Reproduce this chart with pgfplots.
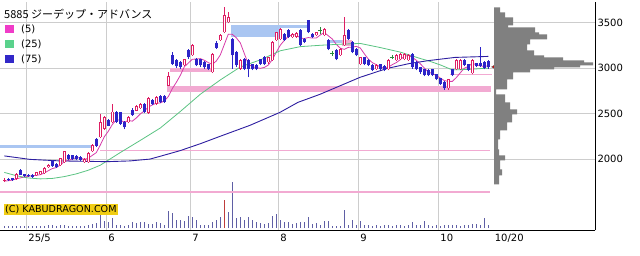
\documentclass[border=0pt]{standalone}
\usepackage{fontspec}
\setmainfont{DejaVu Sans}
\newfontfamily\cjk{Noto Sans CJK JP}
\usepackage{pgfplots}
\pgfplotsset{compat=1.18}
\usepackage{pgfplotstable}

\definecolor{cup}{RGB}{222,30,100}
\definecolor{cdn}{RGB}{44,36,200}
\definecolor{cdoji}{RGB}{40,140,60}
\definecolor{cmfive}{RGB}{215,60,170}
\definecolor{cmtwf}{RGB}{90,195,130}
\definecolor{cmsvf}{RGB}{45,30,160}
\definecolor{clfive}{RGB}{240,60,200}
\definecolor{cltwf}{RGB}{90,210,140}
\definecolor{clsvf}{RGB}{50,40,200}
\definecolor{cpink}{RGB}{242,170,210}
\definecolor{cblue}{RGB}{170,198,242}
\definecolor{cgrid}{RGB}{205,205,205}
\definecolor{cprof}{RGB}{128,128,128}
\definecolor{cyel}{RGB}{240,205,20}
\definecolor{cvol}{RGB}{95,95,165}
\definecolor{cvolr}{RGB}{190,60,60}

% up candles (red, hollow)
\pgfplotstableread{
i O H L C
0 1765 1790 1750 1770
3 1783 1845 1775 1838
8 1823 1862 1815 1856
9 1834 1872 1828 1867
10 1845 1910 1840 1903
11 1912 1950 1905 1940
14 1933 2015 1925 2010
15 1966 2095 1960 2087
20 1966 2010 1960 2002
21 1966 2080 1960 2070
22 2087 2165 2080 2152
24 2240 2496 2230 2404
25 2330 2470 2320 2459
27 2404 2605 2395 2522
31 2404 2470 2395 2459
33 2533 2600 2525 2587
34 2558 2615 2550 2605
36 2506 2680 2500 2667
38 2605 2690 2595 2678
41 2807 2953 2800 2909
45 3029 3105 3020 3095
47 3139 3260 3130 3249
52 2953 3160 2945 3150
54 3304 3370 3295 3358
55 3391 3665 3380 3578
56 3501 3610 3490 3556
59 2990 3095 2980 3084
66 3062 3125 3050 3117
67 3084 3295 3075 3282
68 3304 3400 3295 3391
69 3315 3435 3305 3424
72 3336 3380 3325 3369
73 3340 3400 3330 3385
78 3358 3400 3350 3391
80 3358 3435 3350 3424
84 3139 3215 3130 3205
85 3249 3556 3240 3358
89 3040 3125 3030 3117
93 2985 3040 2975 3029
96 2985 3095 2975 3084
98 3084 3150 3075 3139
99 3095 3160 3085 3150
100 3095 3160 3085 3150
101 3084 3150 3075 3139
111 2777 2885 2765 2876
113 2985 3095 2975 3084
114 2985 3095 2975 3084
117 2942 3095 2930 3084
}\upT

% down candles (blue, filled)
\pgfplotstableread{
i O H L C
1 1780 1790 1760 1768
2 1790 1800 1765 1775
4 1878 1890 1825 1830
5 1834 1840 1805 1812
6 1830 1840 1805 1812
7 1830 1838 1800 1808
12 1977 1990 1918 1925
13 1950 1960 1905 1911
16 2043 2060 1995 2002
17 2043 2050 1990 1999
18 2032 2045 1990 1999
19 2028 2040 1985 1990
23 2222 2230 2140 2150
26 2430 2445 2360 2368
28 2522 2530 2400 2412
29 2514 2520 2375 2386
30 2404 2415 2327 2349
32 2544 2560 2475 2485
35 2605 2615 2505 2514
37 2653 2665 2595 2605
39 2697 2710 2615 2624
40 2690 2700 2615 2624
42 3139 3172 3030 3040
43 3084 3095 3005 3018
44 3062 3075 2995 3007
46 3194 3210 3105 3117
48 3095 3110 3020 3029
49 3095 3105 3015 3029
50 3062 3075 2995 3007
51 3040 3050 2975 2985
53 3275 3300 3210 3220
57 3318 3330 2990 3139
58 3172 3185 3015 3029
60 3098 3110 2975 2990
61 3084 3095 2898 2985
62 3040 3050 2975 2985
63 3029 3040 2975 2985
64 3095 3105 3030 3040
65 3117 3130 3030 3040
70 3369 3380 3295 3304
71 3413 3425 3325 3336
74 3413 3425 3240 3249
75 3315 3325 3270 3282
76 3523 3530 3380 3391
77 3369 3380 3325 3336
81 3304 3315 3195 3205
83 3194 3205 3085 3095
86 3413 3425 3305 3315
87 3282 3295 3160 3172
88 3205 3215 3128 3139
90 3117 3125 3030 3040
91 3084 3095 3020 3029
92 3029 3040 2965 2974
94 3040 3050 2975 2985
95 3018 3030 2965 2974
102 3150 3160 2995 3007
103 3062 3075 2975 2985
104 3007 3015 2940 2953
105 2985 2995 2910 2920
106 2974 2985 2910 2920
107 2985 2995 2910 2920
108 2931 2940 2865 2876
109 2887 2895 2810 2821
110 2843 2855 2765 2777
112 2985 2995 2910 2920
115 3084 3095 3020 3029
116 3040 3050 2965 2974
118 3051 3060 3010 3018
119 3051 3227 3010 3018
120 3062 3075 2985 2996
121 3073 3085 2995 3007
}\dnT

% doji candles (green)
\pgfplotstableread{
i O H L C
79 3413 3446 3369 3413
82 3161 3190 3135 3161
97 3117 3140 3095 3117
}\djT

% volume (bar height in tenths of a pixel)
\pgfplotstableread{
i V
0 25
1 20
2 22
3 25
4 20
5 18
6 20
7 22
8 25
9 20
10 25
11 30
12 28
13 25
14 33
15 30
16 25
17 22
18 20
19 20
20 25
21 30
22 40
23 50
24 150
25 67
26 60
27 100
28 33
29 27
30 23
31 33
32 57
33 50
34 57
35 57
36 40
37 40
38 57
39 50
40 33
41 173
42 147
43 77
44 77
45 67
46 117
47 110
48 77
49 33
50 27
51 33
52 57
53 77
54 107
56 157
57 460
58 100
59 110
60 77
61 110
62 77
63 57
64 50
65 43
66 50
67 117
68 137
69 83
70 60
71 60
72 40
73 50
74 63
75 57
76 107
77 40
78 50
79 33
80 67
81 67
82 23
83 23
84 23
85 183
86 33
87 77
88 33
89 67
90 33
91 33
92 25
93 30
94 25
95 28
96 30
97 25
98 28
99 30
100 25
101 28
102 57
103 30
104 30
105 67
106 30
107 23
108 33
109 23
110 33
111 33
112 33
113 27
114 23
115 33
116 33
117 40
118 40
119 33
120 97
121 33
}\volT

% 5-day moving average
\pgfplotstableread{
i M
0 1760
1 1765
2 1772
3 1785
4 1796
5 1805
6 1813
7 1820
8 1824
9 1831
10 1849
11 1875
12 1898
13 1909
14 1938
15 1975
16 1987
17 2002
18 2019
19 2015
20 1998
21 2012
22 2043
23 2073
24 2156
25 2247
26 2307
27 2381
28 2433
29 2429
30 2407
31 2426
32 2418
33 2453
34 2497
35 2530
36 2572
37 2596
38 2614
39 2618
40 2640
41 2688
42 2775
43 2843
44 2920
45 3014
46 3055
47 3097
48 3099
49 3104
50 3086
51 3060
52 3040
53 3078
54 3144
55 3258
56 3372
57 3370
58 3332
59 3277
60 3160
61 3045
62 3015
63 3006
64 2997
65 3007
66 3033
67 3093
68 3174
69 3251
70 3304
71 3347
72 3365
73 3364
74 3329
75 3324
76 3335
77 3329
78 3330
79 3363
80 3391
81 3354
82 3319
83 3260
84 3218
85 3205
86 3227
87 3229
88 3238
89 3220
90 3157
91 3099
92 3060
93 3038
94 3011
95 2998
96 3009
97 3038
98 3060
99 3093
100 3128
101 3139
102 3117
103 3086
104 3047
105 3001
106 2957
107 2940
108 2918
109 2891
110 2863
111 2854
112 2854
113 2896
114 2948
115 2999
116 3018
117 3051
118 3038
119 3025
120 3018
121 3025
}\mfiveT

% 25-day moving average
\pgfplotstableread{
i M
0 1856
3 1820
6 1795
9 1785
12 1790
15 1810
18 1840
21 1880
24 1935
29 2074
34 2207
39 2343
44 2524
49 2713
54 2870
59 3012
64 3090
69 3190
74 3235
79 3250
84 3262
89 3270
94 3225
99 3175
104 3105
106 3080
109 3035
112 2980
116 2985
121 3000
}\mtwfT

% 75-day moving average
\pgfplotstableread{
i M
0 2037
6.4 1999
14 1982
25.7 1974
31.4 1982
36.4 2002
38.9 2032
43.9 2094
48.9 2169
53.9 2251
61.4 2372
68.9 2514
73.4 2624
78.9 2712
83.9 2805
88.9 2898
95.7 2996
101.4 3051
106.4 3084
112.7 3117
121 3128
}\msvfT

\begin{document}
\begin{tikzpicture}[x=1pt,y=1pt]
\useasboundingbox (0,0) rectangle (640,255);

% volume
\begin{axis}[at={(0,27)}, anchor=south west, scale only axis,
  width=595pt, height=228pt, xmin=-1.075, xmax=147.675,
  ymin=0, ymax=2280, hide axis]
\addplot[ycomb, line width=0.9pt, cvol, mark=none] table[x=i,y=V] \volT;
\addplot[ycomb, line width=0.9pt, cvolr, mark=none] coordinates {(55,283)};
\end{axis}

% main price chart
\begin{axis}[at={(0,27)}, anchor=south west, scale only axis,
  width=595pt, height=228pt,
  xmin=-1.075, xmax=147.675, ymin=1220.4, ymax=3720.4,
  axis x line*=bottom, axis y line*=right,
  axis line style={-, line width=0.9pt, black},
  xtick={5.6,25.6,46.6,68.6,88.6,108.6},
  xticklabels={25/5,6,7,8,9,10},
  extra x ticks={122.2}, extra x tick labels={10/20},
  extra x tick style={grid=none},
  ytick={2000,2500,3000,3500},
  yticklabels={2000,2500,3000,3500},
  xmajorgrids, ymajorgrids,
  grid style={cgrid, line width=0.8pt},
  major tick length=0pt,
  tick label style={font=\fontsize{10}{10}\selectfont, inner sep=0pt},
  xticklabel style={anchor=north west, xshift=1.5pt, yshift=-3.5pt},
  yticklabel style={anchor=west, xshift=2.3pt},
  legend style={at={(0.0084,0.9035)}, anchor=north west, draw=none,
    fill=none, inner sep=0pt, row sep=5.5pt,
    font=\fontsize{10}{10}\selectfont,
    nodes={inner sep=0pt, text height=7.5pt, text depth=2pt},
    /tikz/every odd column/.append style={column sep=7.5pt}},
  legend cell align=left,
]
% zones
\addplot[forget plot, fill=cpink, draw=none] coordinates {(-1.075,1630) (121.4,1630) (121.4,1656) (-1.075,1656)};
\addplot[forget plot, fill=cblue, draw=none] coordinates {(-1.075,2128) (21.85,2128) (21.85,2160) (-1.075,2160)};
\addplot[forget plot, fill=cpink, draw=none] coordinates {(23.9,2087) (121.4,2087) (121.4,2098) (23.9,2098)};
\addplot[forget plot, fill=cpink, draw=none] coordinates {(40.7,2734) (121.6,2734) (121.6,2805) (40.7,2805)};
\addplot[forget plot, fill=cpink, draw=none] coordinates {(41.4,2958) (52.2,2958) (52.2,2997) (41.4,2997)};
\addplot[forget plot, fill=cblue, draw=none] coordinates {(56.7,3337) (68.9,3337) (68.9,3471) (56.7,3471)};
\addplot[forget plot, fill=cblue, draw=none] coordinates {(68.9,3435) (75.9,3435) (75.9,3471) (68.9,3471)};
\addplot[forget plot, fill=cblue, draw=none] coordinates {(80.6,3274) (85.2,3274) (85.2,3307) (80.6,3307)};
\addplot[forget plot, fill=cpink, draw=none] coordinates {(84.3,3245) (86.9,3245) (86.9,3310) (84.3,3310)};
\addplot[forget plot, fill=cpink, draw=none] coordinates {(111.5,2920) (121.9,2920) (121.9,2932) (111.5,2932)};
% moving averages
\addplot[cmfive, line width=0.8pt, mark=none,
  legend image code/.code={\fill[clfive] (0pt,-3.5pt) rectangle (7.5pt,3.5pt);}]
  table[x=i,y=M] \mfiveT;
\addlegendentry{(5)}
\addplot[cmtwf, line width=0.8pt, mark=none,
  legend image code/.code={\fill[cltwf] (0pt,-3.5pt) rectangle (7.5pt,3.5pt);}]
  table[x=i,y=M] \mtwfT;
\addlegendentry{(25)}
\addplot[cmsvf, line width=0.9pt, mark=none,
  legend image code/.code={\fill[clsvf] (0pt,-3.5pt) rectangle (7.5pt,3.5pt);}]
  table[x=i,y=M] \msvfT;
\addlegendentry{(75)}
% wicks
\addplot[forget plot, mark=none, cup, line width=0.8pt,
  quiver={u=0, v=\thisrow{H}-\thisrow{L}}] table[x=i, y=L] \upT;
\addplot[forget plot, mark=none, cdn, line width=0.8pt,
  quiver={u=0, v=\thisrow{H}-\thisrow{L}}] table[x=i, y=L] \dnT;
\addplot[forget plot, mark=none, cdoji, line width=0.8pt,
  quiver={u=0, v=\thisrow{H}-\thisrow{L}}] table[x=i, y=L] \djT;
% bodies
\addplot[forget plot, mark=none, cup, line width=3.2pt,
  quiver={u=0, v=\thisrow{C}-\thisrow{O}}] table[x=i, y=O] \upT;
\addplot[forget plot, mark=none, white, line width=1.4pt,
  quiver={u=0, v={max(\thisrow{C}-\thisrow{O}-18,0)}}] table[x=i, y expr=\thisrow{O}+9] \upT;
\addplot[forget plot, mark=none, cdn, line width=3.2pt,
  quiver={u=0, v=\thisrow{O}-\thisrow{C}}] table[x=i, y=C] \dnT;
\addplot[forget plot, mark=none, cdoji, line width=0.9pt,
  quiver={u=1, v=0}] table[x expr=\thisrow{i}-0.5, y=C] \djT;
% last price marker
\addplot[forget plot, only marks, mark=triangle*, mark size=3pt,
  mark options={rotate=90, fill=red!85!black, draw=black!60, line width=0.4pt}]
  coordinates {(122.55,3013)};
\end{axis}

% price-volume profile (drawn on top of the grid)
\begin{axis}[at={(494,27)}, anchor=south west, scale only axis,
  width=101pt, height=228pt, xmin=0, xmax=101,
  ymin=1220.4, ymax=3720.4, hide axis]
\addplot[fill=cprof, draw=none] coordinates {
(0,3665) (6,3665) (6,3610) (11,3610) (11,3556) (19,3556) (19,3468) (14,3468)
(14,3446) (41,3446) (41,3391) (45,3391) (45,3369) (53,3369) (53,3315) (36,3315)
(36,3260) (33,3260) (33,3194) (40,3194) (40,3139) (50,3139) (50,3117) (69,3117)
(69,3084) (90,3084) (90,3062) (99,3062) (99,3029) (86,3029) (86,3007) (60,3007)
(60,2985) (36,2985) (36,2953) (19,2953) (19,2876) (13,2876) (13,2766) (2,2766)
(2,2712) (11,2712) (11,2624) (16,2624) (16,2547) (23,2547) (23,2492) (18,2492)
(18,2405) (13,2405) (13,2317) (6,2317) (6,2218) (4,2218) (4,2108) (5,2108)
(5,2043) (11,2043) (11,1988) (6,1988) (6,1889) (8,1889) (8,1823) (5,1823)
(5,1724) (0,1724) (0,3665)};
\end{axis}

\node[anchor=west, inner sep=0pt] at (4,241)
  {\cjk\fontsize{11}{11}\selectfont 5885 ジーデップ・アドバンス};
\node[anchor=north west, fill=cyel, inner sep=0pt, minimum width=114.7pt,
  minimum height=11.7pt, font=\fontsize{9.6}{9.6}\selectfont] at (3.3,51.7)
  {(C) KABUDRAGON.COM};
\end{tikzpicture}
\end{document}
